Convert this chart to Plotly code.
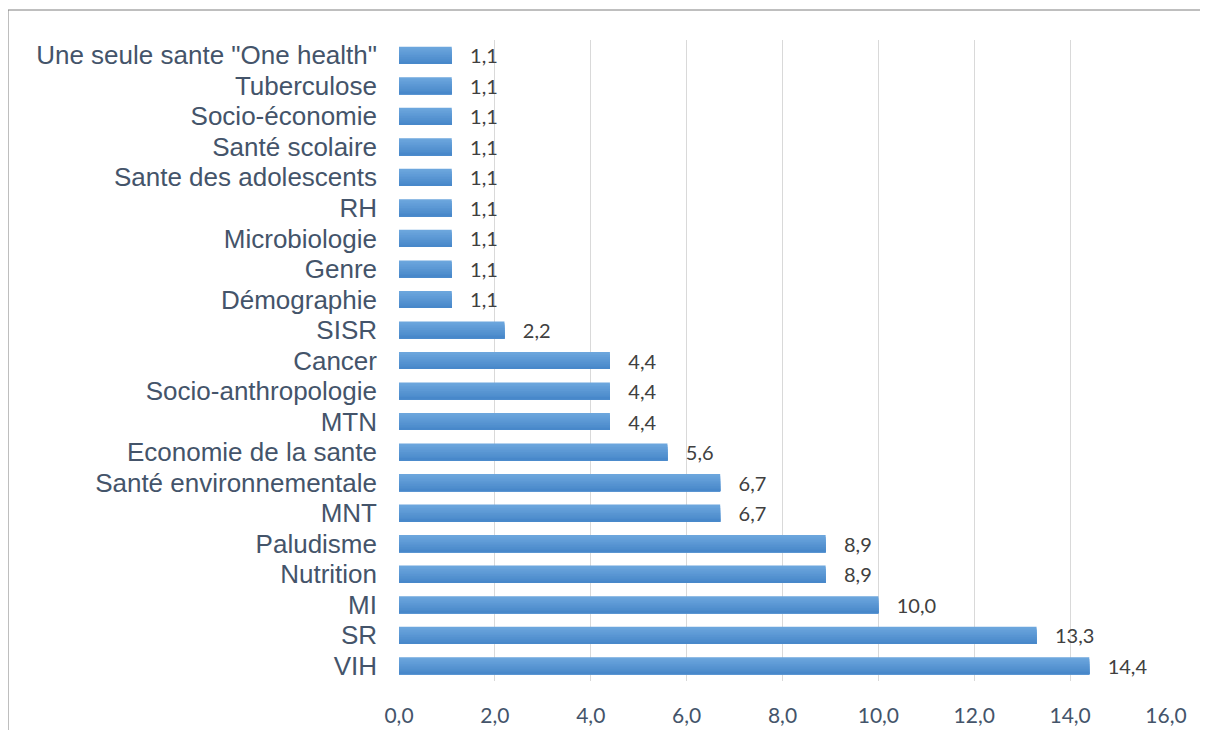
import plotly.graph_objects as go

categories = [
    'Une seule sante "One health"', "Tuberculose", "Socio-économie", "Santé scolaire",
    "Sante des adolescents", "RH", "Microbiologie", "Genre", "Démographie", "SISR",
    "Cancer", "Socio-anthropologie", "MTN", "Economie de la sante",
    "Santé environnementale", "MNT", "Paludisme", "Nutrition", "MI", "SR", "VIH",
]
values = [1.1, 1.1, 1.1, 1.1, 1.1, 1.1, 1.1, 1.1, 1.1, 2.2,
          4.4, 4.4, 4.4, 5.6, 6.7, 6.7, 8.9, 8.9, 10.0, 13.3, 14.4]
x_ticks = [0, 2, 4, 6, 8, 10, 12, 14, 16]
x_tick_labels = [f"{t:.1f}".replace(".", ",") for t in x_ticks]

labels = ["   " + f"{v:.1f}".replace(".", ",") for v in values]

# page body has an 8px offset
OFF = 8
W, H = 1208 - 2 * OFF, 738 - 2 * OFF
L = 399 - OFF
T = 40 - OFF
R = W - (1166 - OFF)
B = H - (681 - OFF)
pw, ph = W - L - R, H - T - B

BAR_W = 0.56
# vertical gradient (top light -> bottom dark) drawn as overlapping strips
grad_top = (0x6c, 0xa6, 0xdd)
grad_bot = (0x48, 0x88, 0xca)
N = 10
fig = go.Figure()
for k in range(N):
    f = k / (N - 1)
    c = tuple(round(grad_top[i] + (grad_bot[i] - grad_top[i]) * f) for i in range(3))
    off = -BAR_W / 2 + k * BAR_W / N
    fig.add_trace(go.Bar(
        x=values, y=categories, orientation="h",
        width=BAR_W / 2 - off, offset=off,
        marker=dict(color="rgb(%d,%d,%d)" % c, line=dict(width=0)),
        hoverinfo="skip",
    ))
fig.add_trace(go.Bar(
    x=values, y=categories, orientation="h", width=BAR_W,
    marker=dict(color="rgba(0,0,0,0)", line=dict(width=0)),
    text=labels, textposition="outside", cliponaxis=False, constraintext="none",
    textfont=dict(family="Lato, Open Sans, sans-serif", size=20, color="#404040"),
    hoverinfo="skip",
))

fig.update_layout(
    width=W, height=H,
    barmode="overlay",
    margin=dict(l=L, r=R, t=T, b=B, pad=0, autoexpand=False),
    paper_bgcolor="white", plot_bgcolor="white",
    showlegend=False,
    xaxis=dict(
        range=[0, 16], tickvals=x_ticks, ticktext=x_tick_labels,
        showgrid=True, gridcolor="#d9d9d9", gridwidth=1,
        zeroline=False, showline=False, ticks="", automargin=False,
        ticklabelstandoff=20,
        tickfont=dict(family="Lato, Open Sans, sans-serif", size=21, color="#44546a"),
    ),
    yaxis=dict(
        autorange="reversed", type="category",
        tickmode="array", tickvals=categories, ticktext=categories,
        showgrid=False, zeroline=False, showline=False, ticks="", automargin=False,
        ticklabelstandoff=21,
        tickfont=dict(family="Liberation Sans, Arial, sans-serif", size=26, color="#44546a"),
    ),
    shapes=[dict(
        type="rect", xref="paper", yref="paper",
        x0=(8 - 399) / pw, x1=(1215 - 399) / pw,
        y0=-(745 - 681) / ph, y1=1 + (40 - 10) / ph,
        line=dict(color="#7f7f7f", width=1), fillcolor="rgba(0,0,0,0)", layer="below",
    )],
)

fig.write_html("out.html")
